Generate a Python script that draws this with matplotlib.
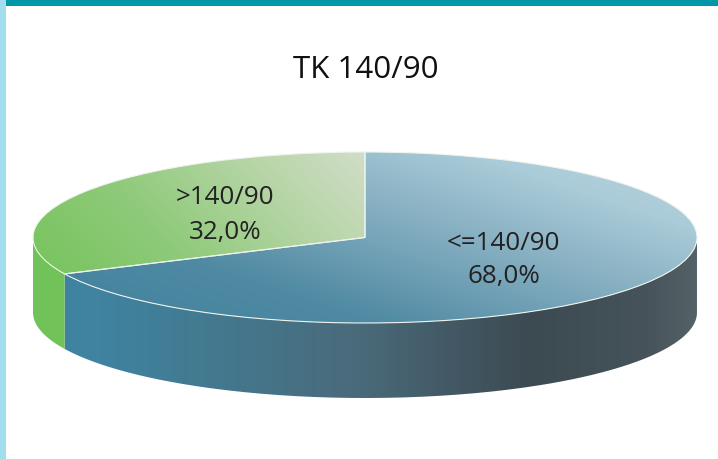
import numpy as np
import matplotlib
matplotlib.use("Agg")
import matplotlib.pyplot as plt
from matplotlib.colors import LinearSegmentedColormap
from matplotlib.patches import Rectangle, PathPatch
from matplotlib.path import Path

plt.rcParams['font.family'] = ['Open Sans', 'DejaVu Sans']

title = "TK 140/90"
categories = ["<=140/90", ">140/90"]
values = [68.0, 32.0]
value_labels = ["68,0%", "32,0%"]

W, H = 718, 459
CX, CY, RX, RY, DEPTH = 365, 237.5, 332, 85.5, 75

def dx(px):
    return (px - CX) / RX

def dy(py):
    return (CY - py) / RY

fig = plt.figure(figsize=(W / 100, H / 100), dpi=100, facecolor="white")
fig.patches.append(Rectangle((0, 0), 6 / W, 1, transform=fig.transFigure, fc="#a3deef", ec="none"))
fig.patches.append(Rectangle((6 / W, 1 - 6 / H), 1, 6 / H, transform=fig.transFigure, fc="#0097a6", ec="none"))

ax = fig.add_axes([0, 0, 1, 1])
wedges, _ = ax.pie(values, startangle=90, counterclock=False, radius=1,
                   wedgeprops=dict(facecolor="none", edgecolor="#eef4ee", linewidth=0.8, zorder=5))
ax.set_aspect("auto")
ax.set_xlim(dx(0), dx(W))
ax.set_ylim(dy(H), dy(0))
ax.axis("off")
extent = (dx(0), dx(W), dy(H), dy(0))


def show(field, stops, clip, z=2):
    cmap = LinearSegmentedColormap.from_list("g", stops)
    im = ax.imshow(np.clip(field, 0, 1), cmap=cmap, vmin=0, vmax=1, extent=extent,
                   origin="upper", aspect="auto", interpolation="bilinear", zorder=z)
    im.set_clip_path(clip)
    return im


yy, xx = np.mgrid[0:H, 0:W]

# side walls, from the sweep of each slice
side_field = xx / W
start = 90.0
total = sum(values)
side_stops = {
    0: [(0.0, "#3f83a0"), (0.14, "#3f83a0"), (0.30, "#43798f"), (0.50, "#4a6a7a"),
        (0.74, "#3c4a52"), (0.90, "#46535a"), (1.0, "#5a686c")],
    1: [(0.0, "#72c25a"), (1.0, "#72c25a")],
}
for i, v in enumerate(values):
    end = start - v / total * 360
    a0, a1 = sorted((start, end))
    arcs = []
    for shift in (0, -360):
        lo = max(a0 + shift, -180)
        hi = min(a1 + shift, 0)
        if hi > lo:
            arcs.append((lo, hi))
    for lo, hi in arcs:
        t = np.radians(np.linspace(lo, hi, 200))
        xs, ys = np.cos(t), np.sin(t)
        d = DEPTH / RY
        verts = np.r_[np.c_[xs, ys], np.c_[xs[::-1], ys[::-1] - d], [[xs[0], ys[0]]]]
        poly = PathPatch(Path(verts), fc="none", ec="none", transform=ax.transData)
        ax.add_patch(poly)
        show(side_field, side_stops[i], poly, z=2)
    start = end

# top faces: diagonal gradients from lower left to upper right
diag = (xx - 40) / 660 * 0.55 + (330 - yy) / 180 * 0.45
blue_stops = [(0.0, "#3f7f9b"), (0.30, "#4f8aa3"), (0.55, "#7faabd"), (0.80, "#aacbd8"), (1.0, "#bcd6e0")]
show(diag, blue_stops, wedges[0], z=3)
diag_g = (xx - 40) / 330 * 0.75 + (270 - yy) / 120 * 0.25
green_stops = [(0.0, "#78c45f"), (0.35, "#8fca7a"), (0.7, "#b6d5a6"), (1.0, "#d3dec9")]
show(diag_g, green_stops, wedges[1], z=3)

ax.set_xlim(dx(0), dx(W))
ax.set_ylim(dy(H), dy(0))

ax.text(dx(366), dy(70), title, ha="center", va="center", fontsize=22.5, color="#111111", zorder=6)
label_pos = [(504, 243, 277), (225, 198, 232)]
for (px, py1, py2), c, vl in zip(label_pos, categories, value_labels):
    ax.text(dx(px), dy(py1), c, ha="center", va="center", fontsize=18.7, color="#222222", zorder=6)
    ax.text(dx(px), dy(py2), vl, ha="center", va="center", fontsize=18.7, color="#222222", zorder=6)

fig.savefig("out.png", dpi=100, facecolor="white")
